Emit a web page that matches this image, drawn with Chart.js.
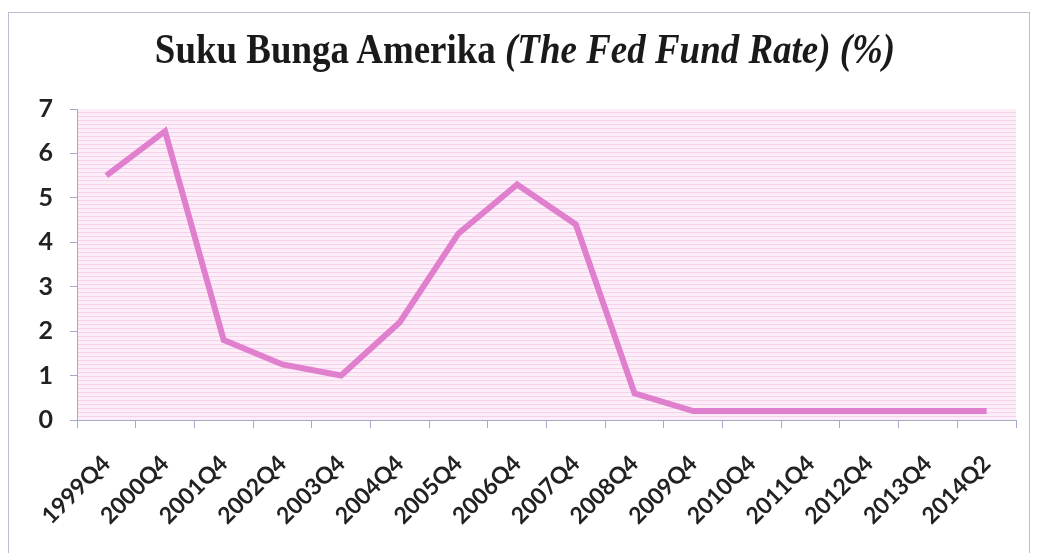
<!DOCTYPE html>
<html>
<head>
<meta charset="utf-8">
<script src="https://cdn.jsdelivr.net/npm/chart.js@4"></script>
<style>
  body { margin: 0; background: #fff; }
  #wrap { position: relative; width: 1038px; height: 553px; overflow: hidden; }
  #frame { position: absolute; left: 8px; top: 12px; width: 1022px; height: 600px; border: 1px solid #b9bfd6; box-sizing: border-box; }
  #title {
    position: absolute; left: 0; top: 25px; width: 1050px; text-align: center;
    font-family: "Liberation Serif", "Times New Roman", serif; font-weight: bold;
    font-size: 42px; color: #1a1a1a; white-space: nowrap;
    transform: scaleX(0.88); transform-origin: 525px 0;
  }
  #title i { font-style: italic; }
  canvas { position: absolute; left: 0; top: 0; }
</style>
</head>
<body>
<div id="wrap">
  <div id="frame"></div>
  <canvas id="fedChart" width="1038" height="553"></canvas>
  <div id="title">Suku Bunga Amerika <i>(The Fed Fund Rate) (%)</i></div>
</div>
<script>
// quarters shown on the x axis
const quarters = ['1999Q4', '2000Q4', '2001Q4', '2002Q4', '2003Q4', '2004Q4', '2005Q4', '2006Q4',
                  '2007Q4', '2008Q4', '2009Q4', '2010Q4', '2011Q4', '2012Q4', '2013Q4', '2014Q2'];
// fed fund rate (%)
const fedRate = [5.5, 6.5, 1.8, 1.25, 1.0, 2.2, 4.2, 5.3, 4.4, 0.6, 0.2, 0.2, 0.2, 0.2, 0.2, 0.2];
const yTicks = [0, 1, 2, 3, 4, 5, 6, 7];

// striped pink fill behind the plot, like the scanned original
function stripePattern(ctx) {
    const c = document.createElement('canvas');
    c.width = 8; c.height = 4;
    const p = c.getContext('2d');
    p.fillStyle = '#fcedf9';
    p.fillRect(0, 0, 8, 4);
    p.fillStyle = '#f4d2ec';
    p.fillRect(0, 0, 8, 1);
    return ctx.createPattern(c, 'repeat');
}

const plotBg = {
    id: 'plotBg',
    beforeDraw(chart) {
        const { ctx, chartArea: a } = chart;
        ctx.save();
        ctx.fillStyle = stripePattern(ctx);
        ctx.fillRect(a.left, a.top, a.right - a.left, a.bottom - a.top);
        ctx.restore();
    }
};

const axisColor = '#a3abc6';
const ctx = document.getElementById('fedChart').getContext('2d');
new Chart(ctx, {
    type: 'line',
    data: {
        labels: quarters,
        datasets: [{
            label: 'Fed Fund Rate',
            data: fedRate,
            borderColor: '#e07fcd',
            borderWidth: 6,
            pointRadius: 0,
            tension: 0,
            fill: false
        }]
    },
    options: {
        responsive: false,
        animation: false,
        layout: { padding: { left: 10, top: 109, right: 22, bottom: 0 } },
        plugins: { legend: { display: false }, title: { display: false }, tooltip: { enabled: false } },
        scales: {
            x: {
                type: 'category',
                offset: true,
                grid: { offset: true, drawOnChartArea: false, color: axisColor, tickLength: 8, tickColor: axisColor },
                border: { color: axisColor, width: 1 },
                ticks: {
                    maxRotation: 45, minRotation: 45, autoSkip: false,
                    color: '#222', padding: 22,
                    font: { family: 'Lato', size: 23, weight: 'bold' }
                },
                afterFit(s) { s.height = 133; }
            },
            y: {
                min: 0, max: 7,
                afterBuildTicks(s) { s.ticks = yTicks.map(v => ({ value: v })); },
                grid: { drawOnChartArea: false, color: axisColor, tickLength: 7, tickColor: axisColor },
                border: { color: axisColor, width: 1 },
                ticks: {
                    color: '#222', padding: 17,
                    font: { family: 'Lato', size: 25, weight: 'bold' }
                },
                afterFit(s) { s.width = 67; }
            }
        }
    },
    plugins: [plotBg]
});
</script>
</body>
</html>
